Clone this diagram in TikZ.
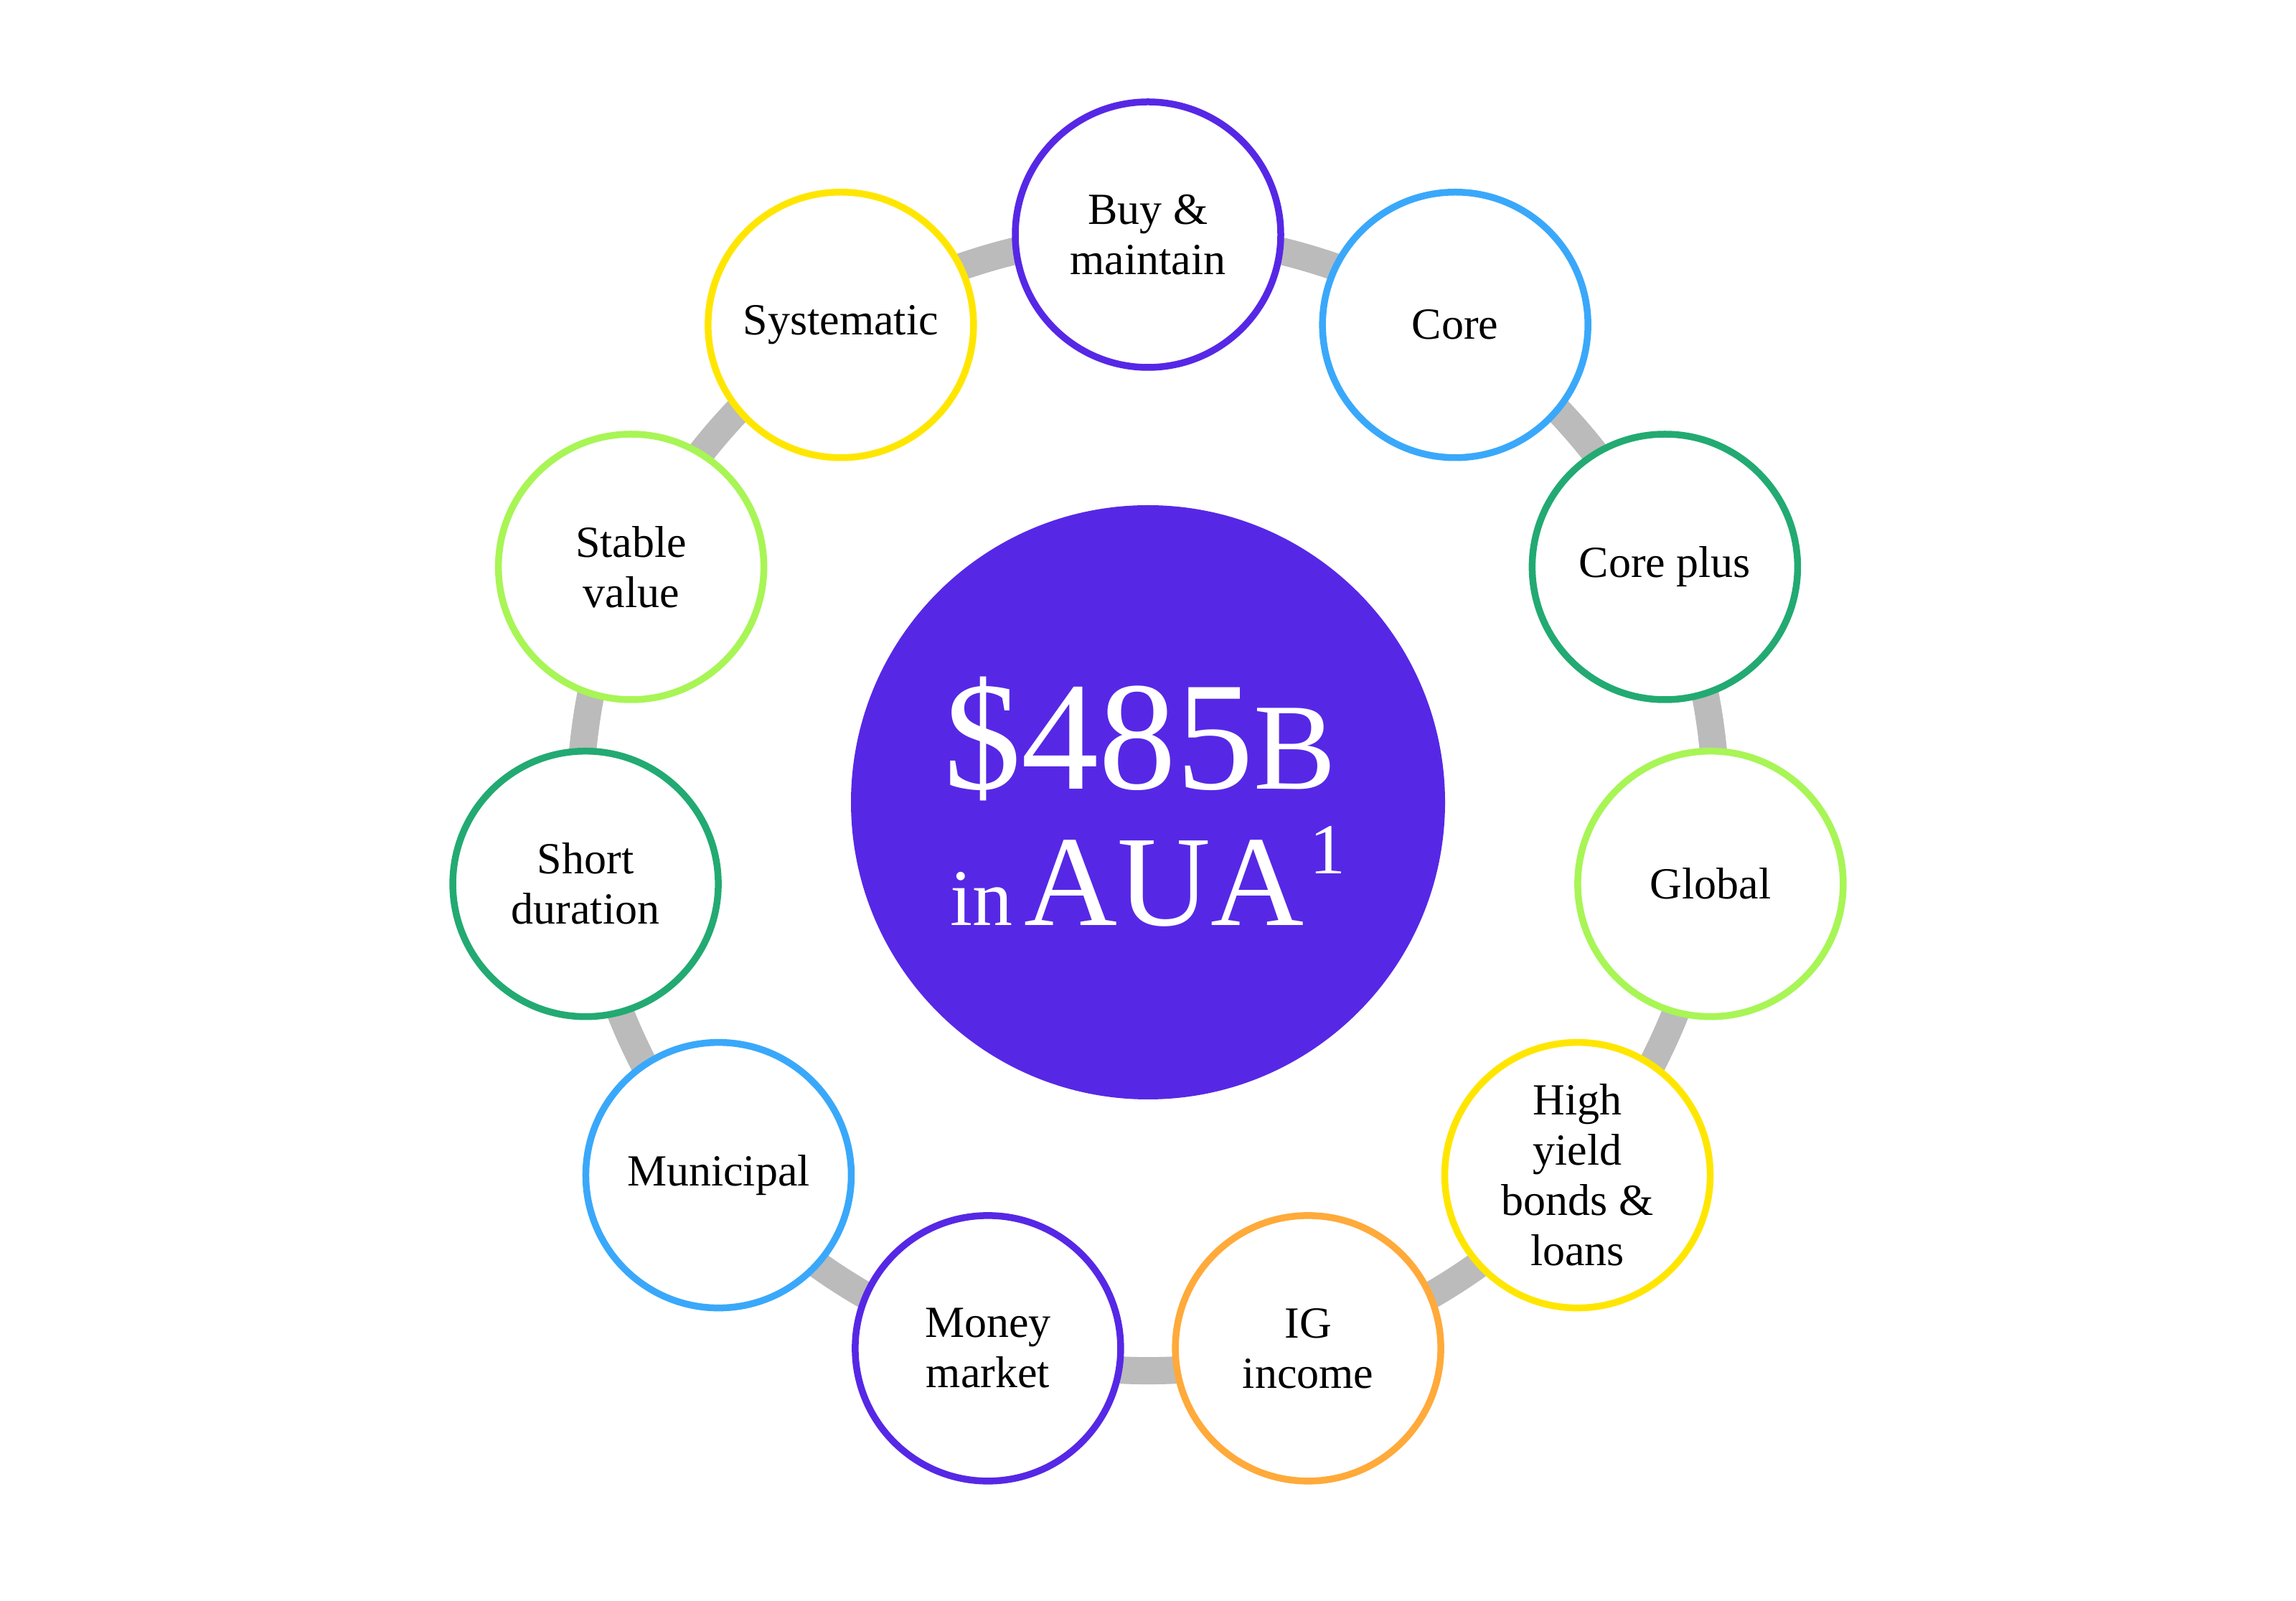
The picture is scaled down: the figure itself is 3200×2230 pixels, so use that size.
\documentclass[tikz,border=0pt]{standalone}
\usepackage{fontspec}
\setmainfont{Liberation Serif}
\usetikzlibrary{backgrounds}
\definecolor{cpurple}{HTML}{5628E6}
\definecolor{cblue}{HTML}{3AA8FA}
\definecolor{cdkgreen}{HTML}{22AA72}
\definecolor{cltgreen}{HTML}{A8F556}
\definecolor{cyellow}{HTML}{FFE600}
\definecolor{corange}{HTML}{FFAA3A}
\definecolor{cring}{HTML}{BBBBBB}
\tikzset{
  leaf/.style={circle, draw=#1, line width=9.5pt, fill=white, minimum size=370pt,
    inner sep=0pt, align=center, text=black, font=\fontsize{62}{70}\selectfont},
  ringlink/.style={draw=cring, line width=38pt, bend left=16.36, looseness=0.85},
  hubtext/.style={text=white, anchor=base, inner sep=0pt},
}
\begin{document}
\begin{tikzpicture}[x=1pt,y=1pt]
\useasboundingbox (0,0) rectangle (3200,2230);
\node[circle, fill=cpurple, minimum size=828pt, inner sep=0pt] (hub) at (1600,1112) {};
\node[hubtext, font=\fontsize{216}{216}\selectfont] (amt) at (1589,1130) {\$485{\fontsize{172}{172}\selectfont B}};
\node[hubtext] (aua) at (1600,940) {{\fontsize{112}{112}\selectfont in}\hspace{16pt}{\fontsize{180}{180}\selectfont AUA}\hspace{8pt}\raisebox{72pt}{\fontsize{100}{100}\selectfont 1}};

\node[leaf=cpurple]  (buy)   at ({1600+792*sin(0*360/11)},{1111+792*cos(0*360/11)}) {Buy \&\\maintain};
\node[leaf=cblue]    (core)  at ({1600+792*sin(1*360/11)},{1111+792*cos(1*360/11)}) {Core};
\node[leaf=cdkgreen] (plus)  at ({1600+792*sin(2*360/11)},{1111+792*cos(2*360/11)}) {Core plus};
\node[leaf=cltgreen] (glob)  at ({1600+792*sin(3*360/11)},{1111+792*cos(3*360/11)}) {Global};
\node[leaf=cyellow]  (high)  at ({1600+792*sin(4*360/11)},{1111+792*cos(4*360/11)}) {High\\yield\\bonds \&\\loans};
\node[leaf=corange]  (ig)    at ({1600+792*sin(5*360/11)},{1111+792*cos(5*360/11)}) {IG\\income};
\node[leaf=cpurple]  (money) at ({1600+792*sin(6*360/11)},{1111+792*cos(6*360/11)}) {Money\\market};
\node[leaf=cblue]    (muni)  at ({1600+792*sin(7*360/11)},{1111+792*cos(7*360/11)}) {Municipal};
\node[leaf=cdkgreen] (short) at ({1600+792*sin(8*360/11)},{1111+792*cos(8*360/11)}) {Short\\duration};
\node[leaf=cltgreen] (stab)  at ({1600+792*sin(9*360/11)},{1111+792*cos(9*360/11)}) {Stable\\value};
\node[leaf=cyellow]  (syst)  at ({1600+792*sin(10*360/11)},{1111+792*cos(10*360/11)}) {Systematic};

\begin{pgfonlayer}{background}
\fill[white] (0,0) rectangle (3200,2230);
\draw[ringlink] (buy.center)   to (core.center);
\draw[ringlink] (core.center)  to (plus.center);
\draw[ringlink] (plus.center)  to (glob.center);
\draw[ringlink] (glob.center)  to (high.center);
\draw[ringlink] (high.center)  to (ig.center);
\draw[ringlink] (ig.center)    to (money.center);
\draw[ringlink] (money.center) to (muni.center);
\draw[ringlink] (muni.center)  to (short.center);
\draw[ringlink] (short.center) to (stab.center);
\draw[ringlink] (stab.center)  to (syst.center);
\draw[ringlink] (syst.center)  to (buy.center);
\end{pgfonlayer}
\end{tikzpicture}
\end{document}
